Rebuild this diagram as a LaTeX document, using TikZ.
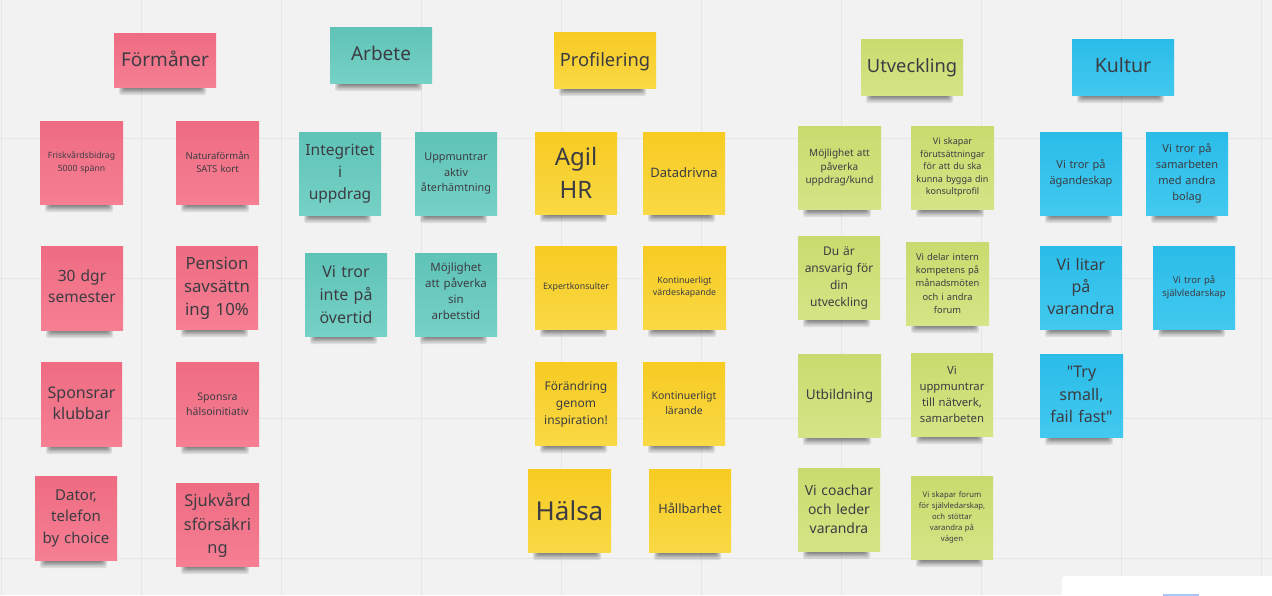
\documentclass[tikz,border=0pt]{standalone}
\usepackage{fontspec}
\setmainfont{Noto Sans}
\font\plainquote="Noto Sans" at 16pt
\definecolor{bgc}{HTML}{F2F2F2}
\definecolor{gridc}{HTML}{E6E6E6}
\definecolor{inkc}{HTML}{3C3C42}
\definecolor{F-pink}{HTML}{EF6C82}
\definecolor{F-pinkb}{HTML}{F57F93}
\definecolor{F-teal}{HTML}{5FC3B7}
\definecolor{F-tealb}{HTML}{76D1C6}
\definecolor{F-yel}{HTML}{F7CB22}
\definecolor{F-yelb}{HTML}{F9D945}
\definecolor{F-gre}{HTML}{C9DB6E}
\definecolor{F-greb}{HTML}{D5E486}
\definecolor{F-blu}{HTML}{2ABCE8}
\definecolor{F-blub}{HTML}{42C9EF}
\definecolor{panelblue}{HTML}{A8C5F8}
\tikzset{
  x=1pt,y=-1pt,
  gridline/.style={draw=gridc,line width=1pt},
  pinknote/.style={top color=F-pink,bottom color=F-pinkb},
  tealnote/.style={top color=F-teal,bottom color=F-tealb},
  yellownote/.style={top color=F-yel,bottom color=F-yelb},
  greennote/.style={top color=F-gre,bottom color=F-greb},
  bluenote/.style={top color=F-blu,bottom color=F-blub},
  shadowlayer/.style={fill=black,opacity=0.09,draw=none,rounded corners=2pt},
}
% placed at the end of a note's text: shift the text up / down by n/2 px
\newcommand{\tup}[1]{\par\vspace{#1pt}}
\newcommand{\tdown}[1]{\par\vspace{-#1pt}}
% name, x1, y1, x2, y2, style, size, leading, text
\newcommand{\sticky}[9]{%
  \foreach \sh/\li/\ri in {8/5/10,6.5/6/11,5/7/12,4/8/13,3/9/14,2/10/15}{%
    \fill[shadowlayer] ({#2+\li},{#5-4}) rectangle ({#4-\ri},{#5+\sh});
  }
  \node[#6,minimum width={(#4-#2)*1pt},minimum height={(#5-#3)*1pt},inner sep=0pt,
        text width={(#4-#2)*1pt},align=center,text=inkc,font=\fontsize{#7}{#8}\selectfont]
     (#1) at ({(#2+#4)/2},{(#3+#5)/2}) {#9};
}
\begin{document}
\begin{tikzpicture}
\useasboundingbox (0,0) rectangle (1272,595);
\clip (0,0) rectangle (1272,595);
\fill[bgc] (0,0) rectangle (1272,595);
\foreach \gx in {1,141,281,421,561,701,841,981,1121,1261}
  \draw[gridline] (\gx,0) -- (\gx,595);
\foreach \gy in {138,278,418,558}
  \draw[gridline] (0,\gy) -- (1272,\gy);
% pink
\sticky{formaner}{114}{33}{216}{87}{pinknote}{19}{24}{Förmåner\tup{2}}
\sticky{frisk}{40}{121}{123}{204}{pinknote}{8.6}{13}{Friskvårdsbidrag\\5000 spänn}
\sticky{natura}{176}{121}{259}{204}{pinknote}{9.5}{13}{Naturaförmån\\SATS kort}
\sticky{dgr}{41}{246}{123}{330}{pinknote}{15.5}{21}{30 dgr\\semester\tup{4}}
\sticky{pension}{176}{246}{258}{329}{pinknote}{16.8}{23}{Pension\\savsättn\\ing 10\%\tdown{2}}
\sticky{sponsrar}{41}{362}{122}{446}{pinknote}{16}{21}{Sponsrar\\klubbar\tup{1}}
\sticky{sponsra}{176}{362}{259}{446}{pinknote}{10.5}{15}{Sponsra\\hälsoinitiativ}
\sticky{dator}{35}{476}{117}{560}{pinknote}{15}{21.5}{Dator,\\telefon\\by choice}
\sticky{sjukvard}{176}{483}{259}{566}{pinknote}{16.4}{23.5}{Sjukvård\\sförsäkri\\ng\tdown{2}}
% teal
\sticky{arbete}{330}{27}{432}{83}{tealnote}{19}{24}{Arbete\tup{3}}
\sticky{integritet}{299}{132}{381}{215}{tealnote}{15.5}{22}{Integritet\\i\\uppdrag}
\sticky{uppmuntrar}{415}{132}{497}{215}{tealnote}{10.8}{15.5}{Uppmuntrar\\aktiv\\återhämtning}
\sticky{vitror}{305}{253}{387}{336}{tealnote}{16}{23}{Vi tror\\inte på\\övertid}
\sticky{mojlighet}{415}{253}{497}{336}{tealnote}{11.5}{16}{Möjlighet\\att påverka\\sin\\arbetstid\tup{6}}
% yellow
\sticky{profilering}{554}{32}{656}{88}{yellownote}{18.3}{24}{Profilering\tdown{4}}
\sticky{agil}{535}{132}{617}{214}{yellownote}{24}{33}{Agil\\HR\tup{1}}
\sticky{data}{643}{132}{725}{214}{yellownote}{13}{18}{Datadrivna}
\sticky{expert}{535}{246}{617}{329}{yellownote}{8.8}{12}{Expertkonsulter}
\sticky{kontv}{643}{246}{726}{329}{yellownote}{8.8}{12}{Kontinuerligt\\värdeskapande}
\sticky{forandring}{535}{362}{617}{445}{yellownote}{12}{17}{Förändring\\genom\\inspiration!\tdown{2}}
\sticky{kontl}{643}{362}{725}{445}{yellownote}{10.5}{15}{Kontinuerligt\\lärande}
\sticky{halsa}{528}{469}{611}{552}{yellownote}{26}{34}{Hälsa}
\sticky{hallbar}{649}{469}{731}{552}{yellownote}{12.8}{17}{Hållbarhet\tup{4}}
% green
\sticky{utveckling}{861}{39}{963}{95}{greennote}{18.3}{24}{Utveckling\tdown{2}}
\sticky{mojl}{798}{126}{881}{209}{greennote}{10}{13.5}{Möjlighet att\\påverka\\uppdrag/kund}
\sticky{skapar}{911}{126}{994}{209}{greennote}{9}{12.5}{Vi skapar\\förutsättningar\\för att du ska\\kunna bygga din\\konsultprofil}
\sticky{ansvarig}{798}{236}{880}{319}{greennote}{12}{17}{Du är\\ansvarig för\\din\\utveckling\tdown{2}}
\sticky{delar}{906}{242}{989}{325}{greennote}{9.3}{13.4}{Vi delar intern\\kompetens på\\månadsmöten\\och i andra\\forum}
\sticky{utb}{798}{354}{881}{437}{greennote}{13.6}{19}{Utbildning}
\sticky{uppm}{911}{353}{993}{436}{greennote}{11.3}{16}{Vi\\uppmuntrar\\till nätverk,\\samarbeten}
\sticky{coach}{798}{468}{880}{551}{greennote}{13.9}{19}{Vi coachar\\och leder\\varandra}
\sticky{forum}{911}{476}{993}{559}{greennote}{7.7}{11}{Vi skapar forum\\för självledarskap,\\och stöttar\\varandra på\\vägen}
% blue
\sticky{kultur}{1072}{39}{1174}{95}{bluenote}{19.5}{24}{Kultur\tup{3}}
\sticky{agande}{1040}{132}{1122}{215}{bluenote}{11}{16}{Vi tror på\\ägandeskap}
\sticky{samarb}{1146}{132}{1228}{215}{bluenote}{11}{16}{Vi tror på\\samarbeten\\med andra\\bolag}
\sticky{litar}{1040}{246}{1122}{329}{bluenote}{16}{22}{Vi litar\\på\\varandra\tup{3}}
\sticky{sjalv}{1153}{246}{1235}{329}{bluenote}{9.5}{13.5}{Vi tror på\\självledarskap}
\sticky{try}{1040}{354}{1123}{437}{bluenote}{16}{22.5}{{\plainquote"}Try\\small,\\fail fast{\plainquote"}\tup{2}}
% panel
\fill[white,rounded corners=3pt] (1062,576) rectangle (1290,620);
\fill[panelblue] (1163,594) rectangle (1199,600);
\end{tikzpicture}
\end{document}
